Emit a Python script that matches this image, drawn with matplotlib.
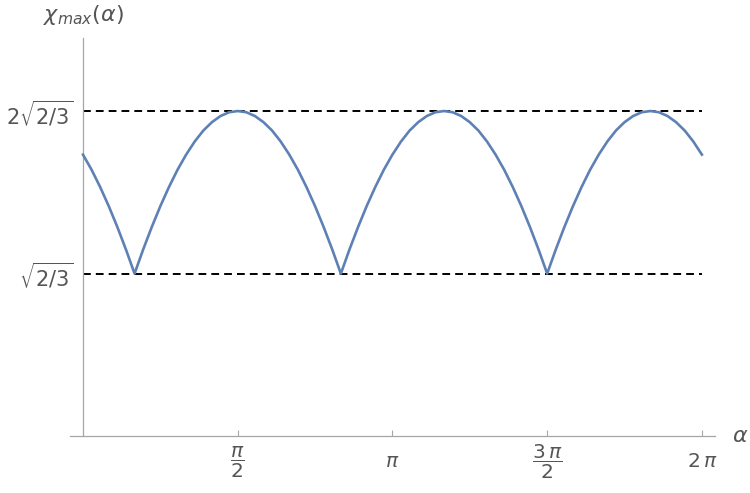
import numpy as np
import matplotlib.pyplot as plt

plt.rcParams['mathtext.fontset'] = 'dejavusans'
plt.rcParams['font.family'] = ['DejaVu Sans']

# sample grid in degrees (every 5 deg from 0 to 360)
alpha_deg = np.arange(0, 361, 5)
# chi_max(alpha)
chi_max = [1.414, 1.338, 1.251, 1.155, 1.050, 0.937, 0.816,
           0.937, 1.050, 1.155, 1.251, 1.338, 1.414, 1.480, 1.535, 1.577, 1.608, 1.627, 1.633,
           1.627, 1.608, 1.577, 1.535, 1.480, 1.414, 1.338, 1.251, 1.155, 1.050, 0.937, 0.816,
           0.937, 1.050, 1.155, 1.251, 1.338, 1.414, 1.480, 1.535, 1.577, 1.608, 1.627, 1.633,
           1.627, 1.608, 1.577, 1.535, 1.480, 1.414, 1.338, 1.251, 1.155, 1.050, 0.937, 0.816,
           0.937, 1.050, 1.155, 1.251, 1.338, 1.414, 1.480, 1.535, 1.577, 1.608, 1.627, 1.633,
           1.627, 1.608, 1.577, 1.535, 1.480, 1.414]

levels = [0.8165, 1.633]
level_labels = [r'$\sqrt{2/3}$', r'$2\sqrt{2/3}$']
xtick_vals = [np.pi / 2, np.pi, 3 * np.pi / 2, 2 * np.pi]
xtick_labels = [r'$\dfrac{\pi}{2}$', r'$\pi$', r'$\dfrac{3\,\pi}{2}$', r'$2\,\pi$']

axis_gray = '#a6a6a6'
text_gray = '#555555'

fig = plt.figure(figsize=(7.5, 4.93), dpi=100)
ax = fig.add_axes([0.0933, 0.1156, 0.86, 0.8073])

alpha = np.deg2rad(alpha_deg)
ax.plot(alpha, chi_max, color='#5E81B5', lw=1.9, solid_joinstyle='round', zorder=3)
ax.hlines(levels, 0, 2 * np.pi, colors='black', lw=1.4, linestyles=(0, (4, 2.6)), zorder=2)

ax.set_xlim(-0.132, 6.416)
ax.set_ylim(0, 2.0)

for s in ['top', 'right']:
    ax.spines[s].set_visible(False)
ax.spines['left'].set_position(('data', 0))
ax.spines['left'].set_color(axis_gray)
ax.spines['bottom'].set_color(axis_gray)
ax.spines['left'].set_linewidth(0.9)
ax.spines['bottom'].set_linewidth(0.9)

ax.set_xticks(xtick_vals)
ax.set_xticklabels(xtick_labels)
ax.tick_params(axis='x', direction='in', length=4, width=0.8, color=axis_gray,
               pad=18.7, labelsize=14.5, labelcolor=text_gray)
for lab in ax.get_xticklabels():
    lab.set_verticalalignment('center')

ax.set_yticks(levels)
ax.set_yticklabels(level_labels)
ax.tick_params(axis='y', length=0, pad=7, labelsize=15, labelcolor=text_gray)

ax.text(6.67, 0, r'$\alpha$', fontsize=16, color=text_gray, ha='center', va='center',
        clip_on=False)
ax.text(0, 2.115, r'$\chi_{max}(\alpha)$', fontsize=16, color=text_gray, ha='center',
        va='center', clip_on=False)

fig.savefig('out.png', dpi=100)
